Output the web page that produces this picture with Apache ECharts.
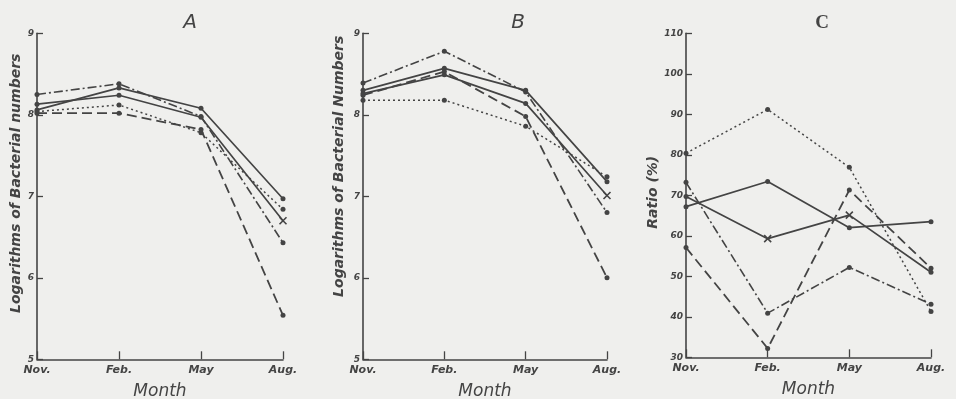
<!DOCTYPE html>
<html>
<head>
<meta charset="utf-8">
<script src="https://cdn.jsdelivr.net/npm/echarts@6/dist/echarts.min.js"></script>
<style>
html,body{margin:0;padding:0;background:#efefed;}
#c{width:956px;height:399px;}
</style>
</head>
<body>
<div id="c"></div>
<script>
const months = ['Nov.', 'Feb.', 'May', 'Aug.'];
const ticksLog = [5, 6, 7, 8, 9];
const ticksRatio = [30, 40, 50, 60, 70, 80, 90, 100, 110];

// Panel A: logarithms of bacterial numbers
const A_solid1 = [8.06, 8.33, 8.08, 6.97];
const A_solid2 = [8.13, 8.24, 7.97, 6.70];
const A_dashdot = [8.25, 8.38, 7.98, 6.43];
const A_dotted = [8.04, 8.12, 7.78, 6.84];
const A_dashed = [8.02, 8.02, 7.82, 5.54];

// Panel B
const B_solid1 = [8.30, 8.57, 8.30, 7.18];
const B_solid2 = [8.26, 8.49, 8.14, 7.01];
const B_dashdot = [8.39, 8.78, 8.28, 6.80];
const B_dotted = [8.18, 8.18, 7.86, 7.24];
const B_dashed = [8.24, 8.53, 7.98, 6.00];

// Panel C: ratio (%)
const C_solid1 = [67.2, 73.4, 62.0, 63.5];
const C_solid2 = [69.7, 59.3, 65.1, 51.0];
const C_dashdot = [73.2, 40.9, 52.2, 43.1];
const C_dotted = [80.4, 91.2, 76.9, 41.3];
const C_dashed = [57.1, 32.2, 71.3, 52.0];

const ink = '#444444';
const hand = 'DejaVu Sans';
const XSYM = 'path://M0,0L10,10M10,0L0,10';

const grids = [
  {left: 37, width: 246, top: 33.3, height: 326, outerBoundsMode: 'none', containLabel: false},
  {left: 363, width: 244, top: 33.3, height: 326, outerBoundsMode: 'none', containLabel: false},
  {left: 686, width: 245, top: 33.3, height: 324, outerBoundsMode: 'none', containLabel: false}
];

function xAxis(i) {
  return {
    type: 'category', gridIndex: i, data: months, boundaryGap: false,
    axisLine: {lineStyle: {color: ink, width: 1.6}},
    axisTick: {inside: true, length: 8, lineStyle: {color: ink, width: 1.3}},
    axisLabel: {color: ink, fontFamily: hand, fontStyle: 'italic', fontWeight: 'bold', fontSize: 11, margin: 5},
    splitLine: {show: false},
    name: 'Month', nameLocation: 'middle', nameGap: 24,
    nameTextStyle: {color: ink, fontFamily: hand, fontStyle: 'italic', fontSize: 17}
  };
}
function yAxis(i, min, max, interval, name, gap, pad) {
  return {
    type: 'value', gridIndex: i, min: min, max: max, interval: interval,
    axisLine: {show: true, lineStyle: {color: ink, width: 1.6}},
    axisTick: {show: true, inside: true, length: 6, lineStyle: {color: ink, width: 1.3}},
    axisLabel: {color: ink, fontFamily: hand, fontStyle: 'italic', fontWeight: 'bold', fontSize: 9, margin: 3},
    splitLine: {show: false},
    name: name, nameLocation: 'middle', nameGap: gap,
    nameTextStyle: {color: ink, fontFamily: hand, fontStyle: 'italic', fontWeight: 'bold', fontSize: 14, padding: pad}
  };
}

function ser(i, data, type, width, xIdx) {
  return {
    type: 'line', xAxisIndex: i, yAxisIndex: i,
    data: data.map((v, k) => (xIdx && xIdx.indexOf(k) >= 0)
      ? {value: v, symbol: XSYM, symbolSize: 7, itemStyle: {color: 'none', borderColor: ink, borderWidth: 1.6}}
      : v),
    symbol: 'circle', symbolSize: 5,
    itemStyle: {color: ink},
    lineStyle: {color: ink, width: width, type: type},
    silent: true, animation: false
  };
}
const SOLID = 'solid', DASH = [10, 5], DOT = [2, 3], DASHDOT = [9, 3, 2, 3];

const series = [
  ser(0, A_solid1, SOLID, 1.7),
  ser(0, A_solid2, SOLID, 1.7, [3]),
  ser(0, A_dashdot, DASHDOT, 1.6),
  ser(0, A_dotted, DOT, 1.5),
  ser(0, A_dashed, DASH, 1.8),
  ser(1, B_solid1, SOLID, 1.7),
  ser(1, B_solid2, SOLID, 1.7, [3]),
  ser(1, B_dashdot, DASHDOT, 1.6),
  ser(1, B_dotted, DOT, 1.5),
  ser(1, B_dashed, DASH, 1.8),
  ser(2, C_solid1, SOLID, 1.7),
  ser(2, C_solid2, SOLID, 1.7, [1, 2]),
  ser(2, C_dashdot, DASHDOT, 1.6),
  ser(2, C_dotted, DOT, 1.5),
  ser(2, C_dashed, DASH, 1.8)
];

const chart = echarts.init(document.getElementById('c'));
chart.setOption({
  backgroundColor: '#efefed',
  animation: false,
  title: [
    {text: 'A', left: 185, top: 8, textAlign: 'center', textStyle: {color: ink, fontFamily: hand, fontStyle: 'italic', fontWeight: 'normal', fontSize: 20}},
    {text: 'B', left: 513, top: 8, textAlign: 'center', textStyle: {color: ink, fontFamily: hand, fontStyle: 'italic', fontWeight: 'normal', fontSize: 20}},
    {text: 'C', left: 817, top: 9, textAlign: 'center', textStyle: {color: ink, fontFamily: 'Liberation Serif', fontWeight: 'bold', fontSize: 19}}
  ],
  grid: grids,
  xAxis: [xAxis(0), xAxis(1), xAxis(2)],
  yAxis: [
    yAxis(0, ticksLog[0], ticksLog[ticksLog.length - 1], 1, 'Logarithms of Bacterial numbers', 14, [0, 0, 0, 26]),
    yAxis(1, ticksLog[0], ticksLog[ticksLog.length - 1], 1, 'Logarithms of Bacterial Numbers', 17, [0, 0, 0, 60]),
    yAxis(2, ticksRatio[0], ticksRatio[ticksRatio.length - 1], 10, 'Ratio (%)', 24, [0, 0, 0, 6])
  ],
  series: series
});
</script>
</body>
</html>
